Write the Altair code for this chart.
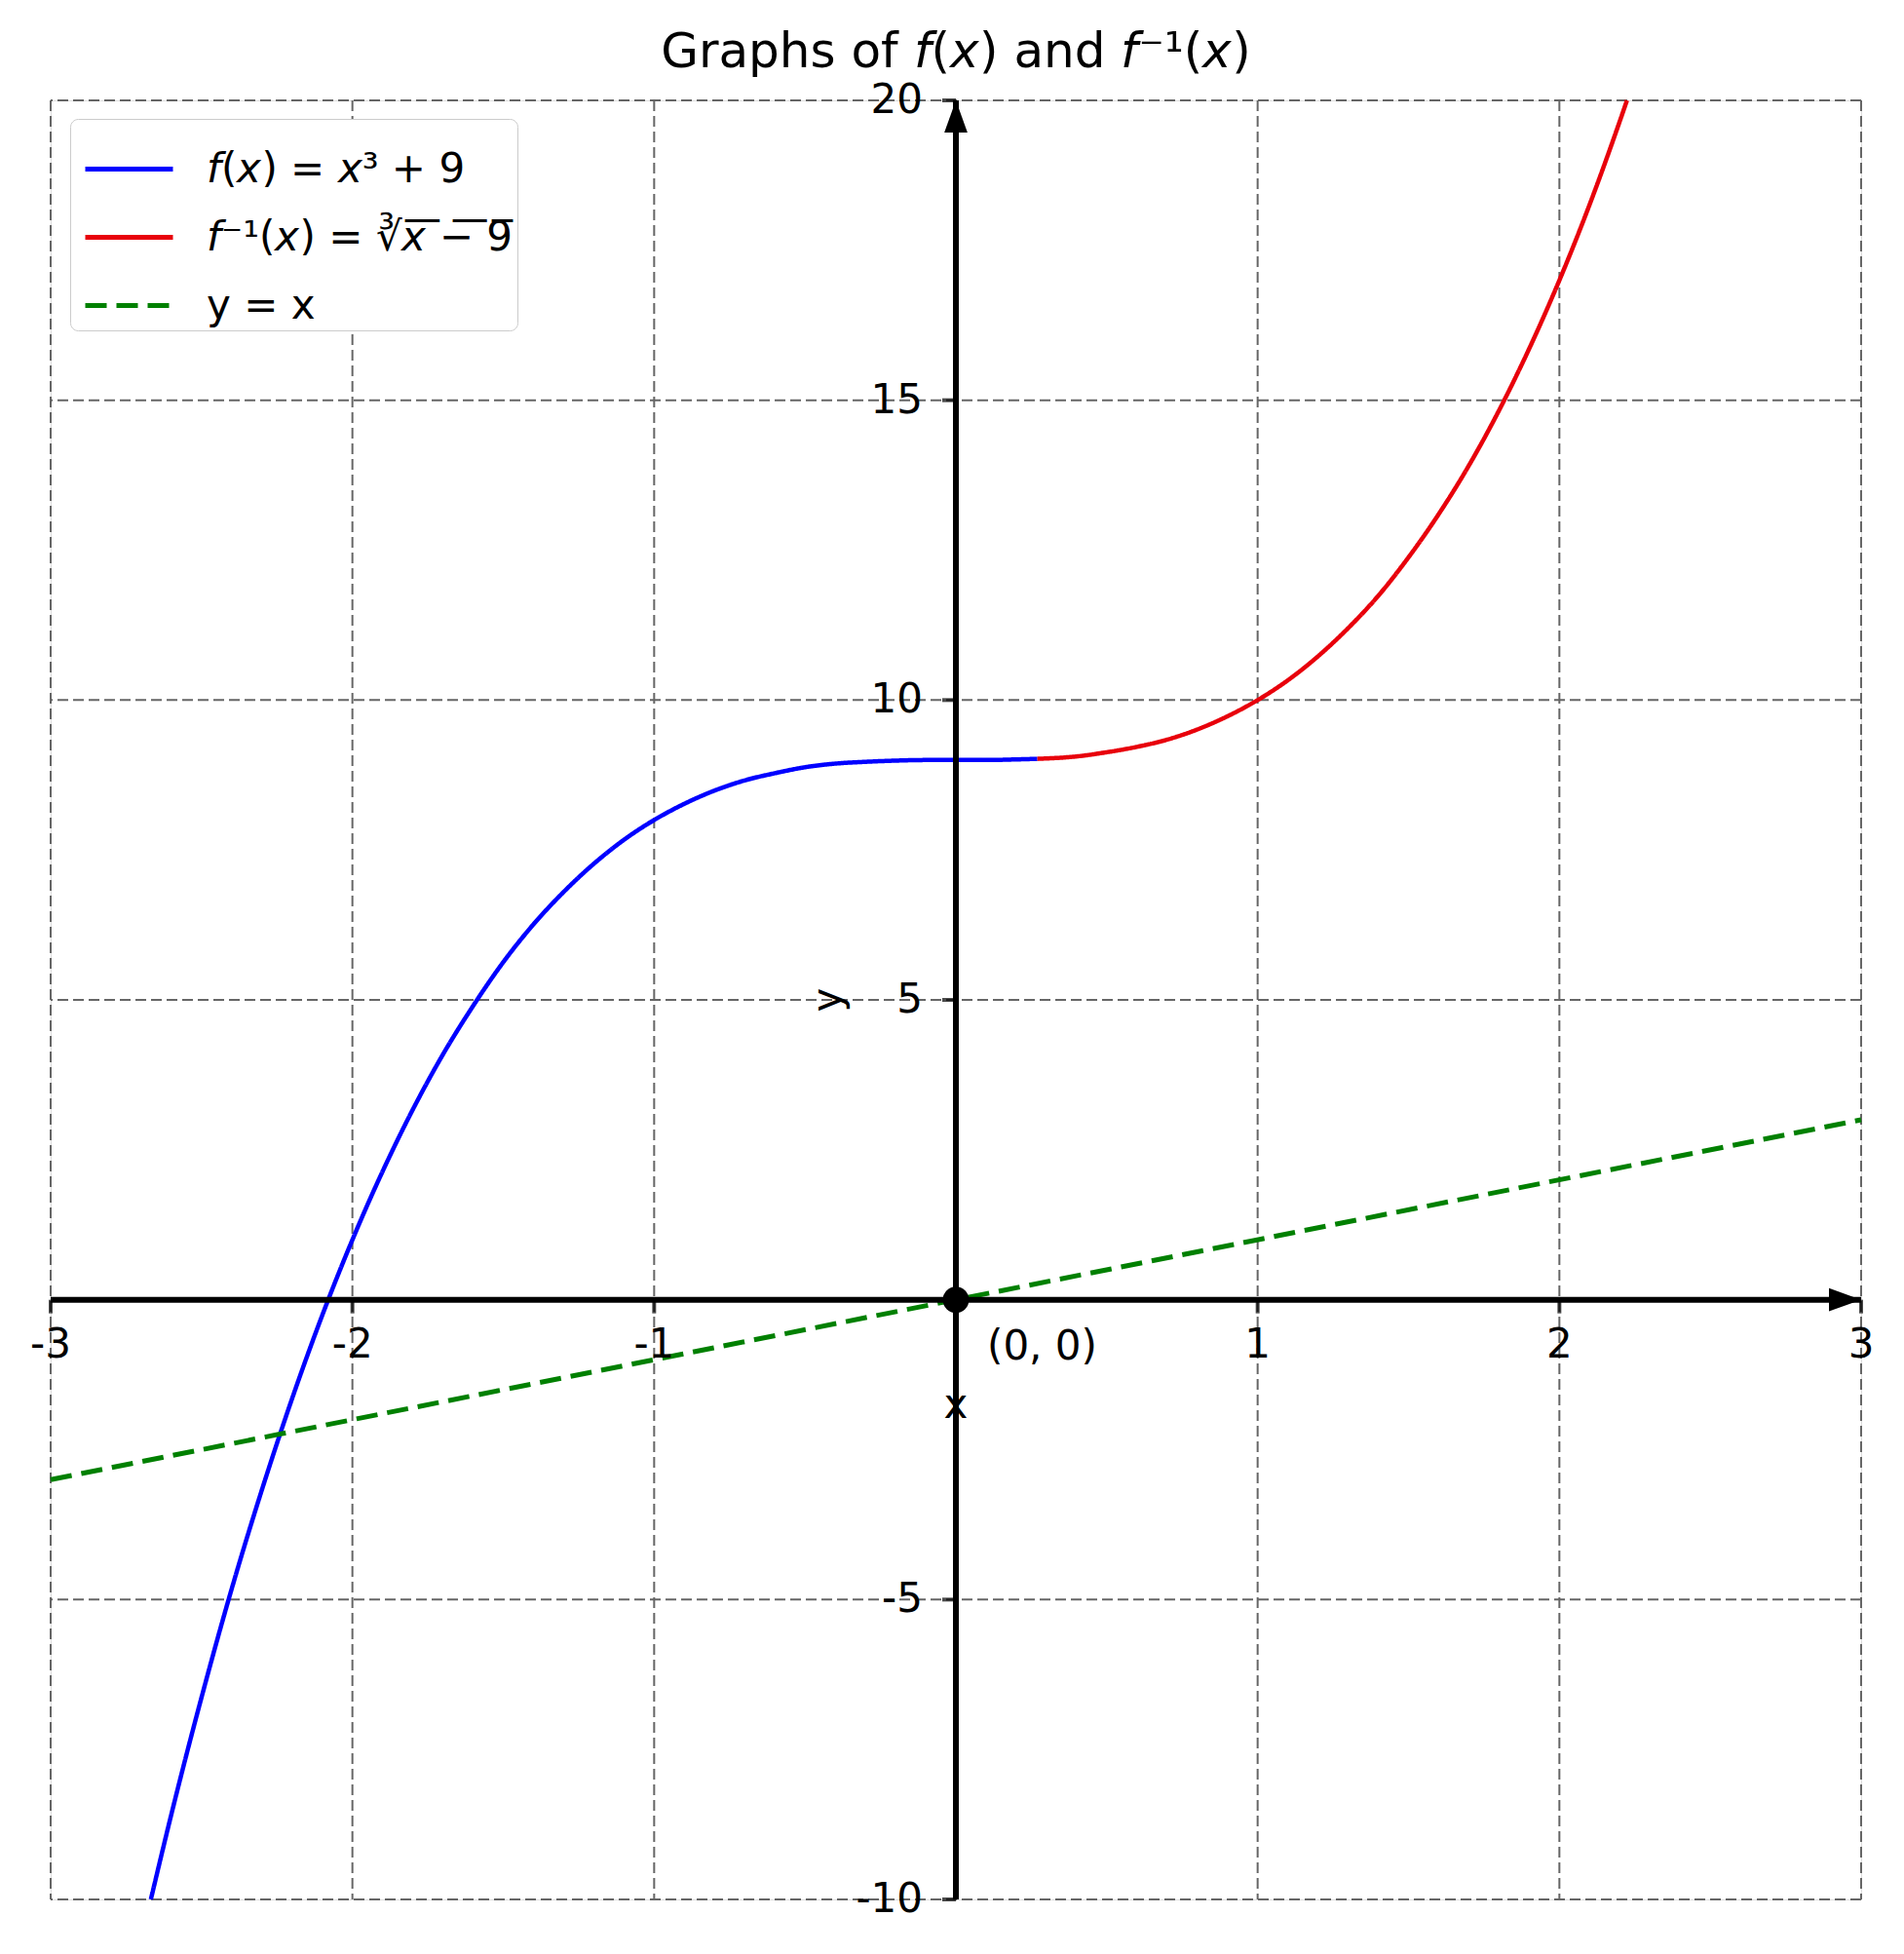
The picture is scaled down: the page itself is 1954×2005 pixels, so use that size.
import altair as alt
import pandas as pd

# ---- data ----
blue_x = [-2.668, -2.6, -2.5, -2.4, -2.3, -2.2, -2.1, -2.0, -1.9, -1.8, -1.7, -1.6, -1.5,
          -1.4, -1.3, -1.2, -1.1, -1.0, -0.9, -0.8, -0.7, -0.6, -0.5, -0.4, -0.3, -0.2,
          -0.1, 0.0, 0.1, 0.2, 0.27]
blue_y = [-10.0, -8.58, -6.63, -4.82, -3.17, -1.65, -0.26, 1.0, 2.14, 3.17, 4.09, 4.90, 5.63,
          6.26, 6.80, 7.27, 7.67, 8.0, 8.27, 8.49, 8.66, 8.78, 8.88, 8.94, 8.97, 8.99,
          9.0, 9.0, 9.0, 9.01, 9.02]
red_x = [0.27, 0.4, 0.5, 0.6, 0.7, 0.8, 0.9, 1.0, 1.1, 1.2, 1.3, 1.4, 1.5, 1.6, 1.7,
         1.8, 1.9, 2.0, 2.1, 2.2, 2.224]
red_y = [9.02, 9.06, 9.13, 9.22, 9.34, 9.51, 9.73, 10.0, 10.33, 10.73, 11.2, 11.74, 12.38,
         13.1, 13.91, 14.83, 15.86, 17.0, 18.26, 19.65, 20.0]
green_x = [-3, 3]
green_y = [-3, 3]

series_names = ["𝘧(𝘹) = 𝘹³ + 9", "𝘧⁻¹(𝘹) = ∛𝘹̅ ̅−̅ ̅9̅", "y = x"]
series_colors = ["#0000ff", "#e8000b", "#008000"]

x_grid = [-3, -2, -1, 0, 1, 2, 3]
y_grid = [-10, -5, 0, 5, 10, 15, 20]
x_ticks = [-3, -2, -1, 1, 2, 3]
x_tick_labels = ["-3", "-2", "-1", "1", "2", "3"]
y_ticks = [-10, -5, 5, 10, 15, 20]
y_tick_labels = ["-10", "-5", "5", "10", "15", "20"]

origin_x = [0]
origin_y = [0]
origin_label = ["(0, 0)"]

FONT = "DejaVu Sans"
FS = 42

lines_df = pd.concat([
    pd.DataFrame({"x": blue_x, "y": blue_y, "series": series_names[0], "o": range(len(blue_x))}),
    pd.DataFrame({"x": red_x, "y": red_y, "series": series_names[1], "o": range(len(red_x))}),
    pd.DataFrame({"x": green_x, "y": green_y, "series": series_names[2], "o": range(len(green_x))}),
])

xs = alt.Scale(domain=[-3, 3], nice=False, zero=False)
ys = alt.Scale(domain=[-10, 20], nice=False, zero=False)
X = lambda f="x": alt.X(f"{f}:Q", scale=xs, axis=None)
Y = lambda f="y": alt.Y(f"{f}:Q", scale=ys, axis=None)

grid_dash = [11, 5]
vgrid = alt.Chart(pd.DataFrame({"x": x_grid})).mark_rule(
    color="#666666", strokeWidth=2, strokeDash=grid_dash).encode(x=X())
hgrid = alt.Chart(pd.DataFrame({"y": y_grid})).mark_rule(
    color="#666666", strokeWidth=2, strokeDash=grid_dash).encode(y=Y())

legend_kw = dict(title=None, orient="none", legendX=20, legendY=19,
                 symbolType="stroke", symbolSize=8100, symbolStrokeWidth=5,
                 symbolOffset=9, labelFont=FONT, labelFontSize=FS,
                 labelOffset=32, rowPadding=1, padding=4,
                 fillColor="white", strokeColor="#cccccc", cornerRadius=8, labelLimit=600)
color_enc = alt.Color("series:N", scale=alt.Scale(domain=series_names, range=series_colors),
                      legend=alt.Legend(**legend_kw))
dash_enc = alt.StrokeDash("series:N",
                          scale=alt.Scale(domain=series_names, range=[[1, 0], [1, 0], [22, 10]]),
                          legend=alt.Legend(**legend_kw))

def line_layer(name, width):
    return alt.Chart(lines_df).transform_filter(alt.datum.series == name).mark_line(
        strokeWidth=width, interpolate="monotone").encode(
        x=X(), y=Y(), color=color_enc, strokeDash=dash_enc, order="o:Q")

blue = line_layer(series_names[0], 4.5)
red = line_layer(series_names[1], 4.5)
green = line_layer(series_names[2], 5)

hax = alt.Chart(pd.DataFrame({"y": [0]})).mark_rule(color="black", strokeWidth=6).encode(y=Y())
vax = alt.Chart(pd.DataFrame({"x": [0]})).mark_rule(color="black", strokeWidth=6).encode(x=X())

arrow_r = alt.Chart(pd.DataFrame({"x": [3], "y": [0]})).mark_point(
    shape="M0,0L-1,-0.36L-1,0.36Z", size=4356, filled=True, color="black", opacity=1).encode(x=X(), y=Y())
arrow_u = alt.Chart(pd.DataFrame({"x": [0], "y": [20]})).mark_point(
    shape="M0,0L-0.36,1L0.36,1Z", size=4356, filled=True, color="black", opacity=1).encode(x=X(), y=Y())

xt_df = pd.DataFrame({"x": x_ticks, "y": [0] * len(x_ticks), "t": x_tick_labels})
yt_df = pd.DataFrame({"x": [0] * len(y_ticks), "y": y_ticks, "t": y_tick_labels})

xtick_marks = alt.Chart(xt_df).mark_tick(orient="vertical", size=14, thickness=4,
                                         yOffset=7, color="black").encode(x=X(), y=Y())
ytick_marks = alt.Chart(yt_df).mark_tick(orient="horizontal", size=14, thickness=4,
                                         xOffset=-7, color="black").encode(x=X(), y=Y())
xtick_text = alt.Chart(xt_df).mark_text(font=FONT, fontSize=FS, baseline="middle",
                                        align="center", yOffset=46, color="black").encode(
    x=X(), y=Y(), text="t:N")
ytick_text = alt.Chart(yt_df).mark_text(font=FONT, fontSize=FS, baseline="middle",
                                        align="right", xOffset=-34, color="black").encode(
    x=X(), y=Y(), text="t:N")

origin_df = pd.DataFrame({"x": origin_x, "y": origin_y, "t": origin_label})
origin_dot = alt.Chart(origin_df).mark_circle(size=720, color="black", opacity=1).encode(x=X(), y=Y())
origin_text = alt.Chart(origin_df).mark_text(font=FONT, fontSize=FS, align="left",
                                             baseline="middle", xOffset=32, yOffset=48,
                                             color="black").encode(x=X(), y=Y(), text="t:N")

xlabel = alt.Chart(pd.DataFrame({"x": [0], "y": [0], "t": ["x"]})).mark_text(
    font=FONT, fontSize=FS, baseline="middle", align="center", yOffset=108, color="black").encode(
    x=X(), y=Y(), text="t:N")
ylabel = alt.Chart(pd.DataFrame({"x": [0], "y": [5], "t": ["y"]})).mark_text(
    font=FONT, fontSize=FS, baseline="middle", align="center", angle=270, xOffset=-131,
    color="black").encode(x=X(), y=Y(), text="t:N")

chart = alt.layer(
    vgrid, hgrid, blue, red, green, hax, vax, arrow_r, arrow_u,
    xtick_marks, ytick_marks, xtick_text, ytick_text, origin_dot, origin_text, xlabel, ylabel
).properties(
    width=1858, height=1846,
    title=alt.TitleParams(text="Graphs of 𝘧(𝘹) and 𝘧⁻¹(𝘹)", font=FONT, fontSize=50,
                          fontWeight="normal", anchor="middle", offset=20, dy=17, color="black"),
    autosize=alt.AutoSizeParams(type="none"),
    padding={"left": 44, "top": 95, "right": 30, "bottom": 50},
).configure_view(stroke=None).configure(background="white")

chart.save("out.html", embed_options={"renderer": "svg", "actions": False})
